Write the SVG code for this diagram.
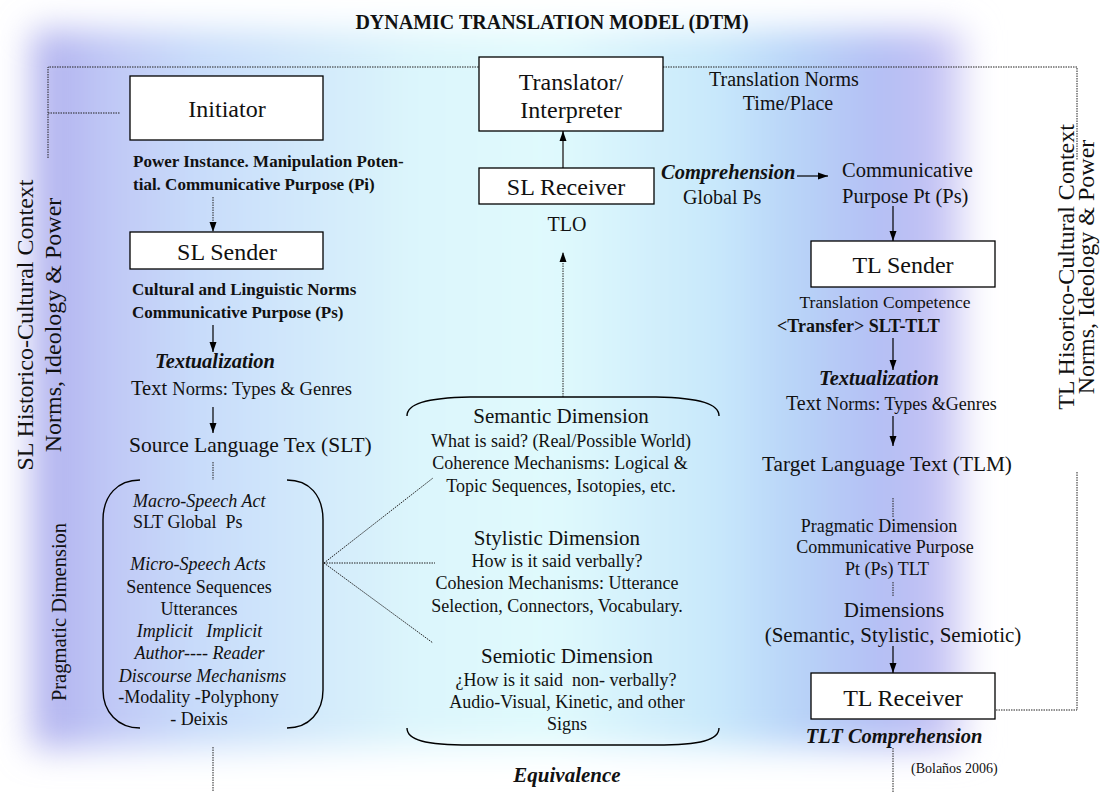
<svg xmlns="http://www.w3.org/2000/svg" width="1104" height="792" viewBox="0 0 1104 792">
<defs>
<linearGradient id="bg" gradientUnits="userSpaceOnUse" x1="0" y1="0" x2="1104" y2="0">
<stop offset="0.035" stop-color="#b0b0ee"/>
<stop offset="0.10" stop-color="#c0c8f6"/>
<stop offset="0.18" stop-color="#c8dcfa"/>
<stop offset="0.38" stop-color="#dcf6fc"/>
<stop offset="0.50" stop-color="#e0fafd"/>
<stop offset="0.65" stop-color="#c8e8fb"/>
<stop offset="0.72" stop-color="#b8d4f8"/>
<stop offset="0.80" stop-color="#b4bef4"/>
<stop offset="0.85" stop-color="#c4c2f4"/>
<stop offset="0.88" stop-color="#ece8fa"/>
</linearGradient>
<filter id="blur" x="-10%" y="-10%" width="120%" height="120%">
<feGaussianBlur stdDeviation="17"/>
</filter>
<marker id="ah" markerUnits="userSpaceOnUse" markerWidth="10" markerHeight="12" refX="10" refY="4" orient="auto">
<path d="M0,0.5 L10,4 L0,7.5 z" fill="#000"/>
</marker>
<style>
text{font-family:"Liberation Serif","Times New Roman",serif;fill:#111;}
.box{fill:#fff;stroke:#000;stroke-width:1.3;}
.solid{stroke:#000;stroke-width:1.2;fill:none;}
.dot{stroke:#222;stroke-width:1;stroke-dasharray:1.5 1;fill:none;}
.brk{stroke:#000;stroke-width:1.4;fill:none;}
.b{font-weight:bold;}
.bi{font-weight:bold;font-style:italic;}
.i{font-style:italic;}
.m{text-anchor:middle;}
.pre{white-space:pre;}
</style>
</defs>

<rect x="32" y="30" width="935" height="718" fill="url(#bg)" filter="url(#blur)"/>

<text x="552" y="29" class="b m" font-size="20">DYNAMIC TRANSLATION MODEL (DTM)</text>

<g id="context-left">
<text transform="translate(33,325) rotate(-90)" class="m" font-size="24">SL Historico-Cultural Context</text>
<text transform="translate(61,325) rotate(-90)" class="m" font-size="24">Norms, Ideology &amp; Power</text>
</g>
<g id="context-right">
<text transform="translate(1074,267) rotate(-90)" class="m" font-size="24">TL Hisorico-Cultural Context</text>
<text transform="translate(1094,267) rotate(-90)" class="m" font-size="24">Norms, Ideology &amp; Power</text>
</g>

<g id="connectors">
<polyline class="dot" points="48,158 48,67 479,67"/>
<polyline class="dot" points="663,67 1077,67 1077,160"/>
<line class="dot" x1="48" y1="113" x2="120" y2="113"/>
<polyline class="dot" points="1077,472 1077,710 995,710"/>
<line class="dot" x1="213" y1="197" x2="213" y2="232" marker-end="url(#ah)"/>
<line class="solid" x1="213" y1="325" x2="213" y2="352" marker-end="url(#ah)"/>
<line class="solid" x1="213" y1="407" x2="213" y2="433" marker-end="url(#ah)"/>
<line class="dot" x1="213" y1="462" x2="213" y2="480"/>
<line class="dot" x1="213" y1="747" x2="213" y2="792"/>
<line x1="563" y1="168" x2="563" y2="131" stroke="#444" stroke-width="1.6" marker-end="url(#ah)"/>
<line class="dot" x1="563" y1="397" x2="563" y2="252" marker-end="url(#ah)"/>
<line class="solid" x1="797" y1="176" x2="828" y2="176" marker-end="url(#ah)"/>
<line class="solid" x1="893" y1="206" x2="893" y2="241" marker-end="url(#ah)"/>
<line class="solid" x1="893" y1="338" x2="893" y2="370" marker-end="url(#ah)"/>
<line class="solid" x1="893" y1="416" x2="893" y2="446" marker-end="url(#ah)"/>
<line class="dot" x1="893" y1="498" x2="893" y2="517"/>
<line class="dot" x1="893" y1="582" x2="893" y2="597"/>
<line class="solid" x1="893" y1="646" x2="893" y2="673" marker-end="url(#ah)"/>
<line class="dot" x1="893" y1="748" x2="893" y2="792"/>
<line class="dot" x1="324" y1="563" x2="433" y2="478"/>
<line class="dot" x1="324" y1="563" x2="435" y2="563"/>
<line class="dot" x1="324" y1="563" x2="433" y2="643"/>
</g>

<g id="initiator">
<rect class="box" x="130" y="76" width="193" height="64"/>
<text x="227" y="117" class="m" font-size="24">Initiator</text>
<text x="133" y="167" class="b" font-size="17">Power Instance. Manipulation Poten-</text>
<text x="133" y="190" class="b" font-size="17">tial. Communicative Purpose (Pi)</text>
</g>

<g id="sl-sender">
<rect class="box" x="130" y="232" width="193" height="37"/>
<text x="227" y="260" class="m" font-size="24">SL Sender</text>
<text x="132" y="295" class="b" font-size="17">Cultural and Linguistic Norms</text>
<text x="132" y="318" class="b" font-size="17">Communicative Purpose (Ps)</text>
</g>

<g id="sl-textualization">
<text x="215" y="368" class="bi m" font-size="20.5">Textualization</text>
<text x="131" y="395" font-size="20.5">Text <tspan font-size="18.5">Norms: Types &amp; Genres</tspan></text>
</g>

<g id="slt">
<text x="129" y="452" font-size="21.5">Source Language Tex (SLT)</text>
</g>

<g id="pragmatic-dimension">
<path class="brk" d="M140,480 C118,480 103,495 103,520 L103,690 C103,712 118,728 140,728"/>
<path class="brk" d="M287,480 C309,480 323,495 323,520 L323,690 C323,712 309,728 287,728"/>
<text transform="translate(66,612) rotate(-90)" class="m" font-size="20.5">Pragmatic Dimension</text>
<text x="133" y="507" class="i" font-size="18">Macro-Speech Act</text>
<text x="133" y="528" class="pre" font-size="18">SLT Global  Ps</text>
<text x="198" y="570" class="i m" font-size="18">Micro-Speech Acts</text>
<text x="199" y="593" class="m" font-size="18">Sentence Sequences</text>
<text x="199" y="615" class="m" font-size="18">Utterances</text>
<text x="199.5" y="637" class="i m pre" font-size="18">Implicit   Implicit</text>
<text x="199.5" y="659" class="i m" font-size="18">Author---- Reader</text>
<text x="202.5" y="682" class="i m" font-size="18">Discourse Mechanisms</text>
<text x="198.5" y="703" class="m" font-size="18">-Modality -Polyphony</text>
<text x="199" y="725" class="m" font-size="18">- Deixis</text>
</g>

<g id="translator">
<rect class="box" x="479" y="57" width="184" height="74"/>
<text x="571" y="90" class="m" font-size="24">Translator/</text>
<text x="571" y="118" class="m" font-size="24">Interpreter</text>
</g>

<g id="translation-norms">
<text x="709" y="86" font-size="20">Translation Norms</text>
<text x="788" y="110" class="m" font-size="20">Time/Place</text>
</g>

<g id="sl-receiver">
<rect class="box" x="479" y="168" width="175" height="36"/>
<text x="566" y="195" class="m" font-size="24">SL Receiver</text>
<text x="567" y="231" class="m" font-size="20">TLO</text>
</g>

<g id="comprehension">
<text x="661" y="179" class="bi" font-size="20.5">Comprehension</text>
<text x="683" y="204" font-size="20">Global Ps</text>
</g>

<g id="dimensions">
<path class="brk" d="M407,416 C407,404 425,398 470,397 L656,397 C701,398 719,404 719,416"/>
<path class="brk" d="M407,728 C407,740 425,745 470,745 L656,745 C701,745 719,740 719,728"/>
<text x="561" y="423" class="m" font-size="21">Semantic Dimension</text>
<text x="561" y="447" class="m" font-size="18">What is said? (Real/Possible World)</text>
<text x="560" y="469" class="m" font-size="18">Coherence Mechanisms: Logical &amp;</text>
<text x="561" y="492" class="m" font-size="18">Topic Sequences, Isotopies, etc.</text>
<text x="557" y="545" class="m" font-size="21">Stylistic Dimension</text>
<text x="557" y="567" class="m" font-size="18">How is it said verbally?</text>
<text x="557" y="589" class="m" font-size="18">Cohesion Mechanisms: Utterance</text>
<text x="557" y="612" class="m" font-size="18">Selection, Connectors, Vocabulary.</text>
<text x="567" y="663" class="m" font-size="21">Semiotic Dimension</text>
<text x="566" y="686" class="m pre" font-size="18">¿How is it said  non- verbally?</text>
<text x="567" y="708" class="m" font-size="18">Audio-Visual, Kinetic, and other</text>
<text x="567" y="730" class="m" font-size="18">Signs</text>
<text x="567" y="782" class="bi m" font-size="21">Equivalence</text>
</g>

<g id="purpose-pt">
<text x="842" y="177" font-size="20.5">Communicative</text>
<text x="842" y="203" font-size="20.5">Purpose Pt (Ps)</text>
</g>

<g id="tl-sender">
<rect class="box" x="811" y="241" width="184" height="46"/>
<text x="903" y="273" class="m" font-size="24">TL Sender</text>
<text x="885" y="308" class="m" font-size="17.5">Translation Competence</text>
<text x="777" y="332" class="b" font-size="18">&lt;Transfer&gt; SLT-TLT</text>
</g>

<g id="tl-textualization">
<text x="879" y="385" class="bi m" font-size="20.5">Textualization</text>
<text x="786" y="410" font-size="20">Text <tspan font-size="18">Norms: Types &amp;Genres</tspan></text>
</g>

<g id="tlt">
<text x="762" y="471" font-size="21.3">Target Language Text (TLM)</text>
<text x="879" y="532" class="m" font-size="18">Pragmatic Dimension</text>
<text x="885" y="553" class="m" font-size="18">Communicative Purpose</text>
<text x="887" y="575" class="m" font-size="18">Pt (Ps) TLT</text>
<text x="894" y="617" class="m" font-size="21">Dimensions</text>
<text x="893" y="642" class="m" font-size="21">(Semantic, Stylistic, Semiotic)</text>
</g>

<g id="tl-receiver">
<rect class="box" x="811" y="673" width="184" height="46"/>
<text x="903" y="706" class="m" font-size="24">TL Receiver</text>
<text x="894" y="743" class="bi m" font-size="20.5">TLT Comprehension</text>
</g>

<text x="911" y="773" font-size="14">(Bolaños 2006)</text>
</svg>
